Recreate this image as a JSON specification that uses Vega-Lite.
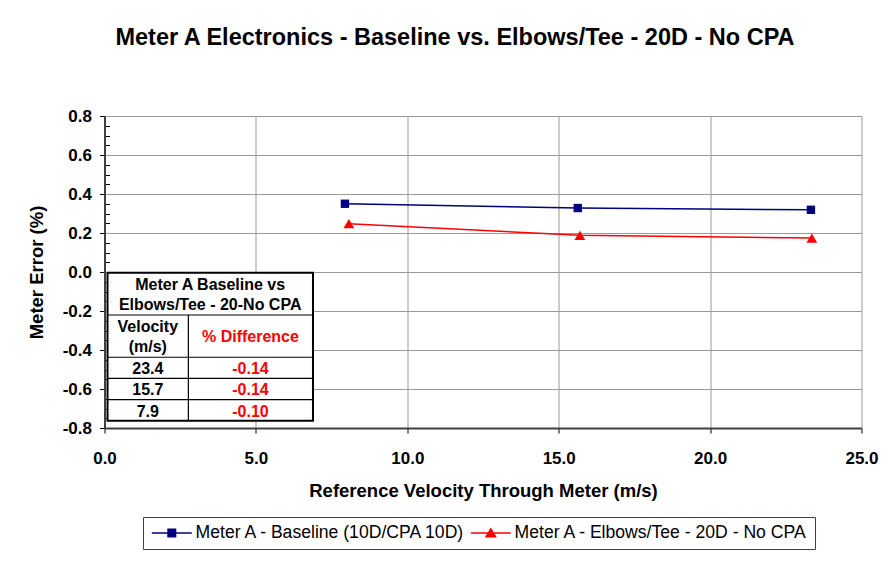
{
  "$schema": "https://vega.github.io/schema/vega-lite/v6.json",
  "width": 757,
  "height": 312,
  "autosize": {"type": "none"},
  "padding": {"left": 104.5, "top": 116, "right": 26.5, "bottom": 143},
  "background": "white",
  "config": {
    "font": "Liberation Sans",
    "view": {"stroke": null},
    "axis": {
      "labelFont": "Liberation Sans", "labelFontSize": 17, "labelFontWeight": "bold", "labelColor": "#000",
      "titleFont": "Liberation Sans", "titleFontSize": 18.5, "titleFontWeight": "bold", "titleColor": "#000",
      "domainColor": "#404040", "domainWidth": 2, "tickColor": "#000", "tickWidth": 1,
      "gridColor": "#999999", "gridWidth": 1, "labelFlush": false
    }
  },
  "title": {
    "text": "Meter A Electronics - Baseline vs. Elbows/Tee - 20D - No CPA",
    "font": "Liberation Sans", "fontSize": 23.5, "fontWeight": "bold", "color": "#000",
    "anchor": "middle", "dx": -28, "offset": 58
  },
  "datasets": {
    "series": [
      {"series": "Meter A - Baseline (10D/CPA 10D)", "velocity": 7.94, "error": 0.350},
      {"series": "Meter A - Baseline (10D/CPA 10D)", "velocity": 15.63, "error": 0.328},
      {"series": "Meter A - Baseline (10D/CPA 10D)", "velocity": 23.33, "error": 0.319},
      {"series": "Meter A - Elbows/Tee - 20D - No CPA", "velocity": 8.07, "error": 0.248},
      {"series": "Meter A - Elbows/Tee - 20D - No CPA", "velocity": 15.70, "error": 0.188},
      {"series": "Meter A - Elbows/Tee - 20D - No CPA", "velocity": 23.36, "error": 0.174}
    ],
    "table": [
      {"velocity": "23.4", "difference": "-0.14"},
      {"velocity": "15.7", "difference": "-0.14"},
      {"velocity": "7.9", "difference": "-0.10"}
    ]
  },
  "layer": [
    {
      "data": {"name": "series"},
      "encoding": {
        "x": {
          "field": "velocity", "type": "quantitative",
          "scale": {"domain": [0, 25], "nice": false},
          "axis": {
            "title": "Reference Velocity Through Meter (m/s)",
            "values": [0, 5, 10, 15, 20, 25], "format": ".1f",
            "tickSize": 5, "labelPadding": 17, "titlePadding": 15, "grid": true
          }
        },
        "y": {
          "field": "error", "type": "quantitative",
          "scale": {"domain": [-0.8, 0.8], "nice": false},
          "axis": {
            "title": "Meter Error (%)",
            "values": [-0.8, -0.75, -0.7, -0.65, -0.6, -0.55, -0.5, -0.45, -0.4, -0.35, -0.3, -0.25, -0.2, -0.15, -0.1, -0.05, 0, 0.05, 0.1, 0.15, 0.2, 0.25, 0.3, 0.35, 0.4, 0.45, 0.5, 0.55, 0.6, 0.65, 0.7, 0.75, 0.8],
            "labelExpr": "abs(round(datum.value * 20)) % 4 == 0 ? replace(format(datum.value, '.1f'), '\u2212', '-') : ''",
            "tickSize": {"condition": {"test": "abs(round(datum.value * 20)) % 4 == 0", "value": 5}, "value": -5},
            "gridOpacity": {"condition": {"test": "abs(round(datum.value * 20)) % 4 == 0", "value": 1}, "value": 0},
            "labelPadding": 8, "titlePadding": 15.5, "grid": true
          }
        },
        "color": {
          "field": "series", "type": "nominal",
          "scale": {
            "domain": ["Meter A - Baseline (10D/CPA 10D)", "Meter A - Elbows/Tee - 20D - No CPA"],
            "range": ["#000080", "#FF0000"]
          },
          "legend": {
            "title": null, "orient": "none", "legendX": 38.5, "legendY": 401,
            "direction": "horizontal",
            "strokeColor": "#404040", "fillColor": "white", "padding": 7,
            "labelFont": "Liberation Sans", "labelFontSize": 17.6, "labelColor": "#000", "labelLimit": 0,
            "symbolSize": 100, "symbolStrokeWidth": 1.5, "symbolOffset": 13, "labelOffset": 15, "columnPadding": 0,
            "encode": {
              "symbols": {
                "update": {
                  "shape": {"signal": "datum.value === 'Meter A - Baseline (10D/CPA 10D)' ? 'M-4,0H4M-0.75,-0.75H0.75V0.75H-0.75Z' : 'M-4,0H4M0,-0.85L0.95,0.75H-0.95Z'"},
                  "fill": {"signal": "datum.value === 'Meter A - Baseline (10D/CPA 10D)' ? '#000080' : '#FF0000'"},
                  "stroke": {"signal": "datum.value === 'Meter A - Baseline (10D/CPA 10D)' ? '#000080' : '#FF0000'"},
                  "opacity": {"value": 1}
                }
              }
            }
          }
        }
      },
      "layer": [
        {"mark": {"type": "line", "strokeWidth": 1.5}},
        {
          "mark": {"type": "point", "filled": true, "opacity": 1},
          "encoding": {
            "shape": {
              "field": "series", "type": "nominal",
              "scale": {"range": ["square", "triangle-up"]},
              "legend": null
            },
            "size": {
              "field": "series", "type": "nominal",
              "scale": {"range": [70, 115]},
              "legend": null
            }
          }
        }
      ]
    },
    {
      "data": {"name": "table"},
      "layer": [
        {
          "data": {"values": [{}]},
          "mark": {"type": "rect", "fill": "white", "stroke": "#000", "strokeWidth": 2},
          "encoding": {
            "x": {"datum": 0.1, "type": "quantitative"},
            "x2": {"datum": 6.885},
            "y": {
              "datum": "t1", "type": "nominal", "bandPosition": 0,
              "scale": {"type": "band", "domain": ["t1", "t2", "h1", "h2", "23.4", "15.7", "7.9", "end"], "range": [156.7, 325.8], "paddingInner": 0, "paddingOuter": 0},
              "axis": null
            },
            "y2": {"datum": "end", "bandPosition": 0}
          }
        },
        {
          "data": {"values": [{}]},
          "mark": {"type": "rule", "stroke": "#000", "strokeWidth": 1.2},
          "encoding": {
            "x": {"datum": 0.1, "type": "quantitative"},
            "x2": {"datum": 6.885},
            "y": {"datum": "h1", "type": "nominal", "bandPosition": 0, "axis": null}
          }
        },
        {
          "data": {"values": [{}]},
          "mark": {"type": "rule", "stroke": "#000", "strokeWidth": 1.2},
          "encoding": {
            "x": {"datum": 2.77, "type": "quantitative"},
            "y": {"datum": "h1", "type": "nominal", "bandPosition": 0, "axis": null},
            "y2": {"datum": "end", "bandPosition": 0}
          }
        },
        {
          "mark": {"type": "rule", "stroke": "#000", "strokeWidth": 1.2},
          "encoding": {
            "x": {"datum": 0.1, "type": "quantitative"},
            "x2": {"datum": 6.885},
            "y": {"field": "velocity", "type": "nominal", "bandPosition": 0, "axis": null}
          }
        },
        {
          "data": {"values": [{}]},
          "mark": {"type": "text", "text": ["Meter A Baseline vs", "Elbows/Tee - 20-No CPA"], "lineHeight": 20, "font": "Liberation Sans", "fontSize": 16, "fontWeight": "bold", "color": "#000", "baseline": "middle", "dy": 1.5},
          "encoding": {
            "x": {"datum": 3.49, "type": "quantitative"},
            "y": {"datum": "t1", "type": "nominal", "bandPosition": 0.5, "axis": null}
          }
        },
        {
          "data": {"values": [{}]},
          "mark": {"type": "text", "text": ["Velocity", "(m/s)"], "lineHeight": 20.5, "font": "Liberation Sans", "fontSize": 16, "fontWeight": "bold", "color": "#000", "baseline": "middle", "dy": 1},
          "encoding": {
            "x": {"datum": 1.43, "type": "quantitative"},
            "y": {"datum": "h1", "type": "nominal", "bandPosition": 0.5, "axis": null}
          }
        },
        {
          "data": {"values": [{}]},
          "mark": {"type": "text", "text": "% Difference", "font": "Liberation Sans", "fontSize": 16, "fontWeight": "bold", "color": "#FF0000", "baseline": "middle", "dy": 1},
          "encoding": {
            "x": {"datum": 4.82, "type": "quantitative"},
            "y": {"datum": "h2", "type": "nominal", "bandPosition": 0, "axis": null}
          }
        },
        {
          "mark": {"type": "text", "font": "Liberation Sans", "fontSize": 16, "fontWeight": "bold", "color": "#000", "baseline": "middle", "dy": 1.5},
          "encoding": {
            "x": {"datum": 1.43, "type": "quantitative"},
            "y": {"field": "velocity", "type": "nominal", "bandPosition": 0.5, "axis": null},
            "text": {"field": "velocity"}
          }
        },
        {
          "mark": {"type": "text", "font": "Liberation Sans", "fontSize": 16, "fontWeight": "bold", "color": "#FF0000", "baseline": "middle", "dy": 1.5},
          "encoding": {
            "x": {"datum": 4.82, "type": "quantitative"},
            "y": {"field": "velocity", "type": "nominal", "bandPosition": 0.5, "axis": null},
            "text": {"field": "difference"}
          }
        }
      ]
    }
  ],
  "resolve": {"scale": {"y": "independent"}}
}
